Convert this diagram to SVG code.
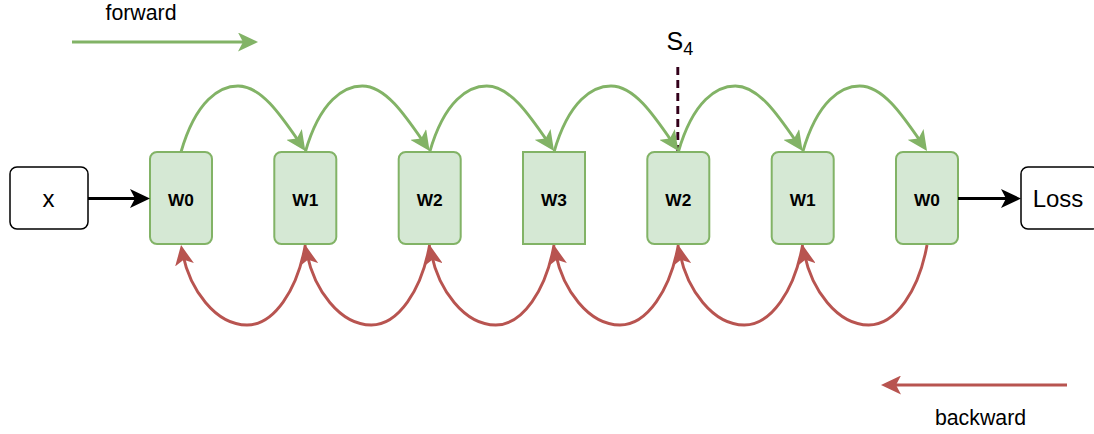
<svg xmlns="http://www.w3.org/2000/svg" width="1094" height="434" viewBox="0 0 1094 434">
  <style>
    .node rect { fill: #d5e8d4; stroke: #82b366; stroke-width: 2; }
    .box rect { fill: #ffffff; stroke: #000000; stroke-width: 1.5; }
    .wlabel { font-family: "Liberation Sans", Arial, sans-serif; font-weight: bold; font-size: 17.3px; text-anchor: middle; fill: #000; }
    .blabel { font-family: "Liberation Sans", Arial, sans-serif; font-size: 24px; text-anchor: middle; fill: #000; }
    .caption { font-family: "Liberation Sans", Arial, sans-serif; font-size: 21.3px; text-anchor: middle; fill: #000; }
    .fwd { fill: none; stroke: #82b366; stroke-width: 2.9; marker-end: url(#ah-green); }
    .bwd { fill: none; stroke: #b85450; stroke-width: 2.9; marker-end: url(#ah-red); }
    .blk { fill: none; stroke: #000000; stroke-width: 2.9; marker-end: url(#ah-black); }
  </style>
  <defs>
    <marker id="ah-green" viewBox="0 0 20 19" markerWidth="20" markerHeight="19" refX="15" refY="9.5" orient="auto" markerUnits="userSpaceOnUse">
      <path d="M0,0 L20,9.5 L0,19 L5,9.5 Z" fill="#82b366"/>
    </marker>
    <marker id="ah-red" viewBox="0 0 20 19" markerWidth="20" markerHeight="19" refX="15" refY="9.5" orient="auto" markerUnits="userSpaceOnUse">
      <path d="M0,0 L20,9.5 L0,19 L5,9.5 Z" fill="#b85450"/>
    </marker>
    <marker id="ah-black" viewBox="0 0 20 19" markerWidth="20" markerHeight="19" refX="15" refY="9.5" orient="auto" markerUnits="userSpaceOnUse">
      <path d="M0,0 L20,9.5 L0,19 L5,9.5 Z" fill="#000000"/>
    </marker>
  </defs>

  <!-- Legend -->
  <g id="legend-forward">
    <text class="caption" x="141" y="20">forward</text>
  </g>
  <g id="legend-backward">
    <text class="caption" x="980.5" y="425">backward</text>
  </g>

  <!-- S4 marker -->
  <g id="s4">
    <line x1="677.8" y1="67" x2="677.8" y2="152" stroke="#33001A" stroke-width="2.9" stroke-dasharray="8 5"/>
    <text x="666.5" y="50" font-family="Liberation Sans, Arial, sans-serif" font-size="25" fill="#000">S<tspan font-size="18" dy="5">4</tspan></text>
  </g>

  <!-- Nodes -->
  <g id="node-x" class="box">
    <rect x="10" y="167" width="78" height="62" rx="7"/>
    <text class="blabel" x="48.5" y="207">x</text>
  </g>
  <g id="node-w0a" class="node">
    <rect x="150" y="152" width="62" height="92" rx="7"/>
    <text class="wlabel" x="181" y="205.5">W0</text>
  </g>
  <g id="node-w1a" class="node">
    <rect x="274.3" y="152" width="62" height="92" rx="7"/>
    <text class="wlabel" x="305.3" y="205.5">W1</text>
  </g>
  <g id="node-w2a" class="node">
    <rect x="398.7" y="152" width="62" height="92" rx="7"/>
    <text class="wlabel" x="429.7" y="205.5">W2</text>
  </g>
  <g id="node-w3" class="node">
    <rect x="523" y="152" width="62" height="92"/>
    <text class="wlabel" x="554" y="205.5">W3</text>
  </g>
  <g id="node-w2b" class="node">
    <rect x="647.3" y="152" width="62" height="92" rx="7"/>
    <text class="wlabel" x="678.3" y="205.5">W2</text>
  </g>
  <g id="node-w1b" class="node">
    <rect x="771.7" y="152" width="62" height="92" rx="7"/>
    <text class="wlabel" x="802.7" y="205.5">W1</text>
  </g>
  <g id="node-w0b" class="node">
    <rect x="896" y="152" width="62" height="92" rx="7"/>
    <text class="wlabel" x="927" y="205.5">W0</text>
  </g>
  <g id="node-loss" class="box">
    <rect x="1021" y="167" width="78" height="62" rx="7"/>
    <text class="blabel" x="1058" y="207">Loss</text>
  </g>

  <!-- Connectors -->
  <g id="connectors">
    <path class="fwd" d="M72,42 L253,42"/>
    <path class="bwd" d="M1067,385 L886,385"/>
    <path class="blk" d="M88,198.5 L145,198.5"/>
    <path class="blk" d="M958,198.5 L1016,198.5"/>

    <path class="fwd" transform="translate(181,0)" d="M0,152 C15,100 39,86 57,86 C81,86 101,117 121.5,146.8"/>
    <path class="fwd" transform="translate(305.3,0)" d="M0,152 C15,100 39,86 57,86 C81,86 101,117 121.5,146.8"/>
    <path class="fwd" transform="translate(429.7,0)" d="M0,152 C15,100 39,86 57,86 C81,86 101,117 121.5,146.8"/>
    <path class="fwd" transform="translate(554,0)" d="M0,152 C15,100 39,86 57,86 C81,86 101,117 121.5,146.8"/>
    <path class="fwd" transform="translate(678.3,0)" d="M0,152 C15,100 39,86 57,86 C81,86 101,117 121.5,146.8"/>
    <path class="fwd" transform="translate(802.7,0)" d="M0,152 C15,100 39,86 57,86 C81,86 101,117 121.5,146.8"/>

    <path class="bwd" transform="translate(181,0)" d="M124.3,245 C116.3,290 93,325 66,325 C35,325 8,290 0.9,250"/>
    <path class="bwd" transform="translate(305.3,0)" d="M124.3,245 C116.3,290 93,325 66,325 C35,325 8,290 0.9,250"/>
    <path class="bwd" transform="translate(429.7,0)" d="M124.3,245 C116.3,290 93,325 66,325 C35,325 8,290 0.9,250"/>
    <path class="bwd" transform="translate(554,0)" d="M124.3,245 C116.3,290 93,325 66,325 C35,325 8,290 0.9,250"/>
    <path class="bwd" transform="translate(678.3,0)" d="M124.3,245 C116.3,290 93,325 66,325 C35,325 8,290 0.9,250"/>
    <path class="bwd" transform="translate(802.7,0)" d="M124.3,245 C116.3,290 93,325 66,325 C35,325 8,290 0.9,250"/>
  </g>
</svg>
